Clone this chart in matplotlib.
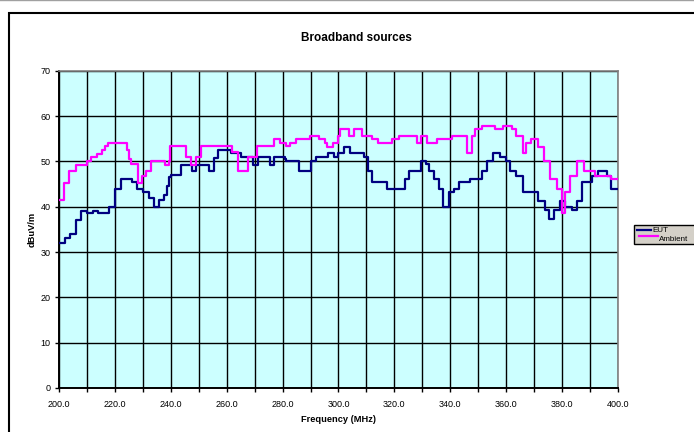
"""Broadband sources: EUT vs ambient field strength, 200-400 MHz."""

import matplotlib

matplotlib.use("Agg")
import matplotlib.pyplot as plt
from matplotlib.lines import Line2D
from matplotlib.patches import Rectangle
from matplotlib.ticker import FormatStrFormatter, MultipleLocator

plt.rcParams["font.family"] = ["Liberation Sans", "DejaVu Sans"]

# step breakpoints (MHz) and levels (dBuV/m)
EUT_FREQ = [
    200, 202, 204, 206, 208, 210, 212, 214, 218, 220, 222, 226, 228, 230, 232,
    234, 235.6, 237.4, 238.5, 239.4, 240, 243.6, 247.5, 249, 253.7, 255.6, 257,
    261.4, 265, 269.3, 271.2, 275.4, 276.8, 280.7, 281.2, 286, 290, 292, 296.2,
    298.5, 299.7, 302, 304, 309.2, 310.4, 312, 317.5, 323.7, 325.3, 329.4,
    331.2, 332.4, 334.1, 335.9, 337.5, 339.5, 341.5, 343, 347.2, 351.3, 353.3,
    355.2, 357.8, 360, 361.4, 363.5, 366, 371.6, 374, 375.2, 377.2, 379.2,
    381.2, 383.6, 385.4, 387.2, 390.8, 392.9, 396.3, 397.5, 400,
]
EUT_LEVEL = [
    32, 33, 34, 37, 39, 38.5, 39, 38.5, 40, 44, 46, 45.5, 44, 43.3, 42,
    40, 41.5, 42.6, 44.5, 46.6, 47, 49.3, 47.9, 49.3, 47.9, 50.8, 52.6,
    51.9, 51, 49.3, 51, 49.3, 51, 50.5, 50.1, 47.8, 50.1, 50.9, 51.8,
    50.9, 51.8, 53.1, 51.8, 50.9, 47.8, 45.4, 43.8, 46.1, 47.8, 50.1,
    49.4, 47.8, 46.1, 43.8, 40, 43.2, 43.8, 45.4, 46.1, 47.8, 50.1,
    51.8, 50.9, 50, 47.8, 46.8, 43.2, 41.3, 39.3, 37.3, 39.3, 41.3,
    40, 39.3, 41.3, 45.4, 46.8, 47.8, 46.8, 43.8, 43.8,
]

AMB_FREQ = [
    200, 201.7, 203.5, 206, 210, 211.3, 213.5, 215.3, 216.5, 217.5, 224.4, 225,
    225.8, 228.2, 229.6, 231.2, 233, 238, 239.5, 239.8, 245.3, 247.2, 249.1,
    250.7, 262, 264, 267.5, 271, 276.8, 279.2, 281.2, 282.8, 284.8, 289.8,
    293.2, 295.2, 296, 298, 300, 300.5, 303.8, 305.6, 308.6, 312, 314, 319.2,
    321.6, 328.2, 329.6, 331.8, 335.3, 340.6, 346, 347.8, 349, 351.3, 356, 359,
    362.2, 363.7, 366, 367.3, 368.8, 371.6, 373.6, 375.8, 378.2, 380, 381.2,
    383, 385.4, 387.8, 392, 397.5, 400,
]
AMB_LEVEL = [
    41.5, 45.3, 47.9, 49.3, 50, 51, 51.6, 52.6, 53.3, 54.1, 52.5, 50.5,
    49.5, 45.3, 46.8, 47.9, 50, 49.3, 50, 53.3, 51, 49.3, 51,
    53.3, 52, 47.9, 51, 53.3, 55, 54.1, 53.3, 54, 54.9, 55.7,
    54.9, 54, 53.2, 54, 55.7, 57.1, 55.7, 57.1, 55.7, 54.9, 54, 54.9,
    55.7, 54, 55.7, 54, 54.9, 55.7, 51.8, 55.7, 57.1, 57.9, 57.1, 57.9,
    57.1, 55.7, 51.8, 54, 54.9, 53.2, 50.1, 46.1, 43.8, 38.5, 43.2,
    46.8, 50.1, 47.8, 46.8, 46.1, 46.1,
]

COLORS = {"EUT": "#000080", "Ambient": "#FF00FF"}

W, H = 694, 432


def fx(px):
    return px / W


def fy(py):
    return 1 - py / H


def main():
    fig = plt.figure(figsize=(6.94, 4.32), dpi=100)
    ax = fig.add_axes([0.0852, 0.1019, 0.8050, 0.7344])
    ax.set_facecolor("#CCFFFF")

    ax.plot(EUT_FREQ, EUT_LEVEL, drawstyle="steps-post", color=COLORS["EUT"],
            lw=1.6, zorder=3)
    ax.plot(AMB_FREQ, AMB_LEVEL, drawstyle="steps-post", color=COLORS["Ambient"],
            lw=1.6, zorder=3)

    ax.set_xlim(200, 400)
    ax.set_ylim(0, 70)
    ax.xaxis.set_major_locator(MultipleLocator(20))
    ax.xaxis.set_minor_locator(MultipleLocator(10))
    ax.xaxis.set_major_formatter(FormatStrFormatter("%.1f"))
    ax.yaxis.set_major_locator(MultipleLocator(10))
    ax.grid(which="both", color="black", lw=1.0, zorder=1)
    ax.set_axisbelow(True)
    ax.tick_params(which="both", direction="out", length=3, width=1,
                   labelsize=6.5, pad=3)
    ax.tick_params(axis="x", pad=6)

    for side in ("left", "bottom"):
        ax.spines[side].set_color("black")
        ax.spines[side].set_linewidth(1.4)
    for side in ("top", "right"):
        ax.spines[side].set_color("#808080")
        ax.spines[side].set_linewidth(1.2)

    ax.set_xlabel("Frequency (MHz)", fontsize=6.7, fontweight="bold", labelpad=4)
    ax.set_ylabel("dBuV/m", fontsize=6.7, fontweight="bold", labelpad=3)
    fig.text(0.513, 0.912, "Broadband sources", ha="center", va="center",
             fontsize=8.5, fontweight="bold")

    # chart-area border, running off the right and bottom edges
    fig.patches.append(Rectangle((fx(8.5), -0.05), 1.2, fy(13) + 0.05,
                                 transform=fig.transFigure, fill=False,
                                 edgecolor="black", lw=1.5))
    fig.lines.append(Line2D([0, 1], [0.999, 0.999], transform=fig.transFigure,
                            color="#a0a0a0", lw=1))

    # legend box, clipped by the right edge like the original
    fig.patches.append(Rectangle((fx(634), fy(244)), 0.2, (244 - 225) / H,
                                 transform=fig.transFigure, facecolor="#D4D0C8",
                                 edgecolor="black", lw=1.0, zorder=5))
    fig.lines.append(Line2D([fx(637), fx(651)], [fy(230)] * 2,
                            transform=fig.transFigure, color=COLORS["EUT"],
                            lw=1.6, zorder=6))
    fig.text(fx(652), fy(230), "EUT", fontsize=5.8, va="center", zorder=6)
    fig.lines.append(Line2D([fx(639), fx(658)], [fy(236)] * 2,
                            transform=fig.transFigure, color=COLORS["Ambient"],
                            lw=1.6, zorder=6))
    fig.text(fx(659), fy(239.5), "Ambient", fontsize=5.8, va="center", zorder=6)

    fig.savefig("out.png", dpi=100)
    plt.close(fig)


if __name__ == "__main__":
    main()
